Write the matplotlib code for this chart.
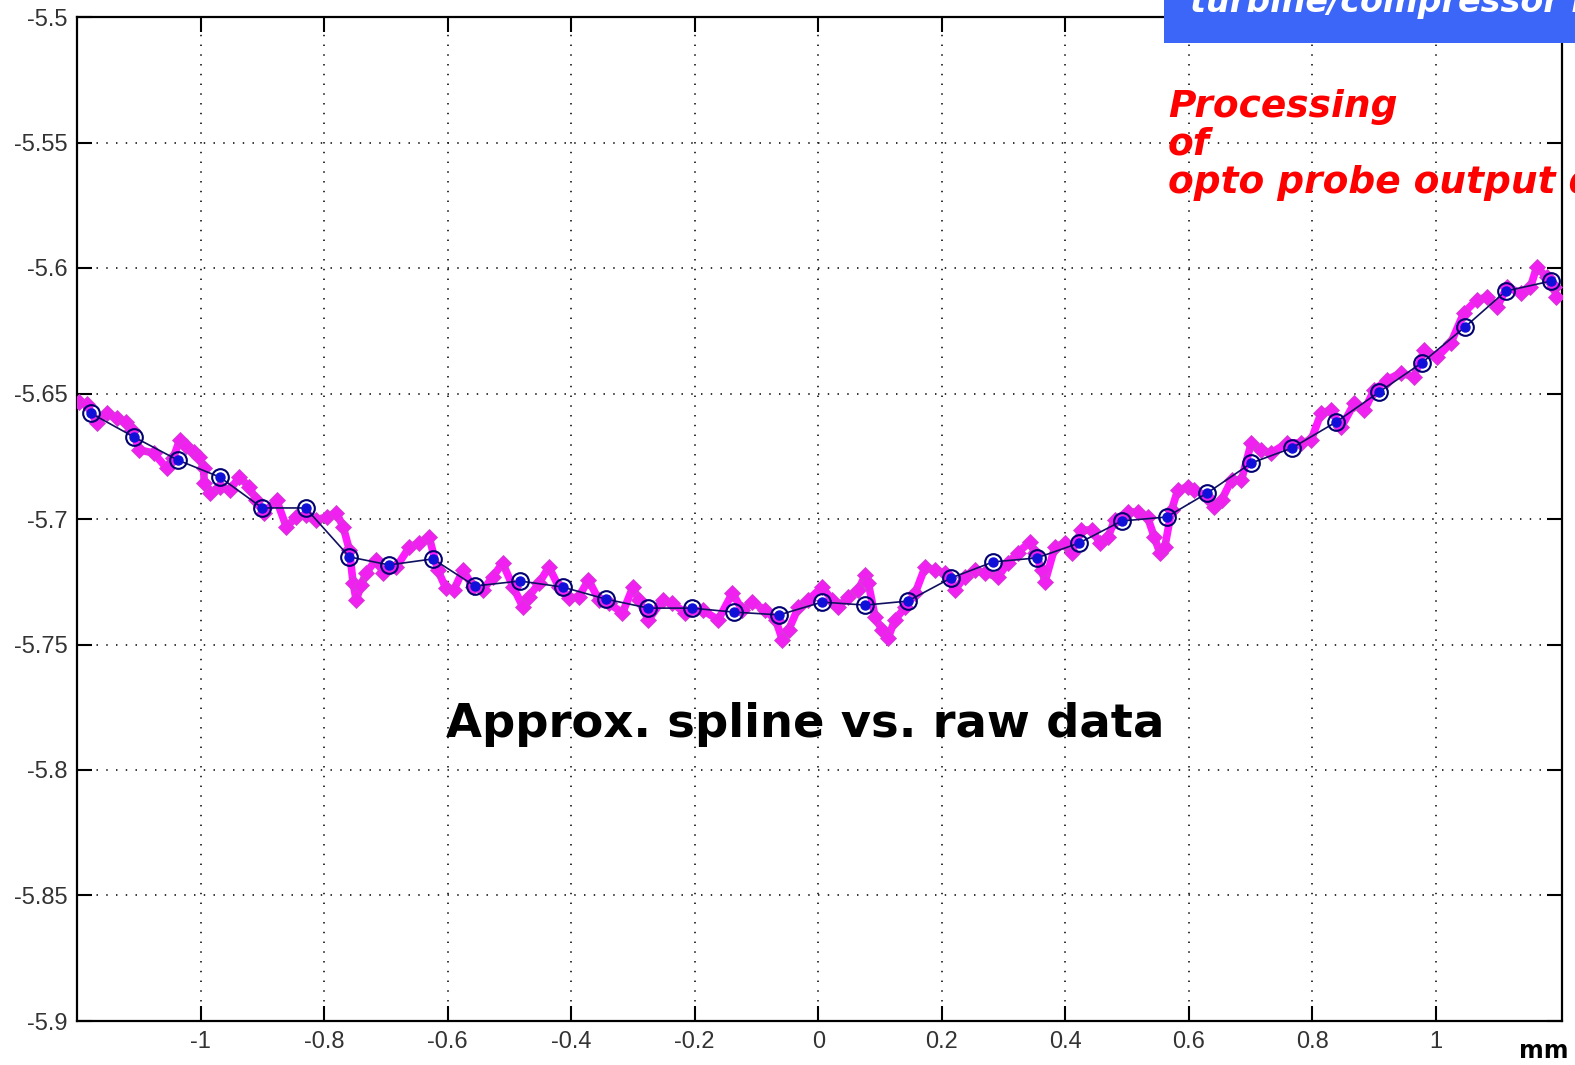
import matplotlib
matplotlib.use("Agg")
import matplotlib.pyplot as plt
import matplotlib.patches as mpatches

plt.rcParams["axes.unicode_minus"] = False

# Raw opto-probe readings (mm)
raw_x = [-1.197, -1.184, -1.168, -1.152, -1.136, -1.120, -1.111, -1.099, -1.076, -1.055,
         -1.044, -1.034, -1.023, -1.011, -1.002, -0.995, -0.994, -0.985, -0.969, -0.953,
         -0.937, -0.921, -0.910, -0.898, -0.877, -0.861, -0.845, -0.829, -0.813, -0.796,
         -0.780, -0.769, -0.759, -0.753, -0.748, -0.740, -0.732, -0.716, -0.704, -0.683,
         -0.662, -0.646, -0.630, -0.616, -0.603, -0.590, -0.575, -0.559, -0.543, -0.527,
         -0.511, -0.494, -0.478, -0.469, -0.452, -0.436, -0.420, -0.404, -0.388, -0.372,
         -0.355, -0.339, -0.317, -0.300, -0.291, -0.275, -0.252, -0.236, -0.215, -0.187,
         -0.162, -0.139, -0.123, -0.107, -0.086, -0.069, -0.058, -0.048, -0.032, -0.016,
         0.006, 0.023, 0.032, 0.048, 0.065, 0.076, 0.081, 0.092, 0.103, 0.113,
         0.124, 0.141, 0.157, 0.173, 0.189, 0.205, 0.221, 0.237, 0.254, 0.270,
         0.291, 0.307, 0.323, 0.342, 0.351, 0.362, 0.367, 0.383, 0.399, 0.410,
         0.426, 0.443, 0.456, 0.469, 0.480, 0.501, 0.517, 0.533, 0.544, 0.553,
         0.561, 0.572, 0.582, 0.598, 0.609, 0.630, 0.641, 0.653, 0.669, 0.685,
         0.701, 0.717, 0.733, 0.759, 0.782, 0.798, 0.814, 0.830, 0.847, 0.868,
         0.884, 0.900, 0.921, 0.943, 0.964, 0.981, 1.002, 1.024, 1.045, 1.066,
         1.082, 1.099, 1.115, 1.137, 1.153, 1.163, 1.179, 1.191, 1.195]
raw_y = [-5.6534, -5.6542, -5.6618, -5.6578, -5.6598, -5.6614, -5.6645, -5.6725, -5.6737, -5.6797,
         -5.6757, -5.6685, -5.6709, -5.6733, -5.6753, -5.6797, -5.6857, -5.6896, -5.6873, -5.6884,
         -5.6833, -5.6873, -5.6924, -5.6976, -5.6924, -5.7032, -5.6992, -5.6984, -5.7004, -5.6992,
         -5.6976, -5.7032, -5.7124, -5.7255, -5.7323, -5.7263, -5.7215, -5.7163, -5.7215, -5.7191,
         -5.7112, -5.7096, -5.7072, -5.7203, -5.7275, -5.7283, -5.7203, -5.7271, -5.7283, -5.7231,
         -5.7175, -5.7271, -5.7351, -5.7311, -5.7255, -5.7191, -5.7271, -5.7315, -5.7311, -5.7243,
         -5.7323, -5.7335, -5.7375, -5.7271, -5.7323, -5.7402, -5.7323, -5.7335, -5.7375, -5.7363,
         -5.7402, -5.7295, -5.7363, -5.7331, -5.7363, -5.7402, -5.7482, -5.7442, -5.7351, -5.7323,
         -5.7271, -5.7323, -5.7351, -5.7311, -5.7283, -5.7223, -5.7255, -5.7390, -5.7442, -5.7474,
         -5.7402, -5.7351, -5.7295, -5.7191, -5.7203, -5.7215, -5.7283, -5.7231, -5.7203, -5.7215,
         -5.7231, -5.7175, -5.7135, -5.7092, -5.7135, -5.7203, -5.7251, -5.7112, -5.7096, -5.7135,
         -5.7044, -5.7044, -5.7096, -5.7072, -5.7004, -5.6972, -5.6972, -5.6992, -5.7072, -5.7135,
         -5.7112, -5.6964, -5.6884, -5.6873, -5.6884, -5.6912, -5.6952, -5.6924, -5.6845, -5.6845,
         -5.6697, -5.6725, -5.6737, -5.6697, -5.6697, -5.6685, -5.6578, -5.6566, -5.6633, -5.6538,
         -5.6566, -5.6486, -5.6446, -5.6418, -5.6434, -5.6327, -5.6355, -5.6299, -5.6179, -5.6127,
         -5.6116, -5.6155, -5.6076, -5.6100, -5.6076, -5.5996, -5.6036, -5.6076, -5.6116]

# Approximating spline knots
spline_x = [-1.178, -1.108, -1.037, -0.969, -0.900, -0.830, -0.759, -0.695, -0.624, -0.556,
            -0.483, -0.414, -0.344, -0.275, -0.205, -0.136, -0.063, 0.006, 0.076, 0.145,
            0.215, 0.283, 0.354, 0.422, 0.491, 0.564, 0.630, 0.701, 0.767, 0.838,
            0.908, 0.977, 1.047, 1.113, 1.186]
spline_y = [-5.6578, -5.6673, -5.6765, -5.6833, -5.6956, -5.6956, -5.7151, -5.7183, -5.7159, -5.7267,
            -5.7247, -5.7271, -5.7319, -5.7355, -5.7355, -5.7371, -5.7382, -5.7331, -5.7343, -5.7327,
            -5.7235, -5.7171, -5.7155, -5.7096, -5.7008, -5.6992, -5.6896, -5.6777, -5.6717, -5.6614,
            -5.6494, -5.6378, -5.6235, -5.6092, -5.6052]

x_ticks = [-1.0, -0.8, -0.6, -0.4, -0.2, 0.0, 0.2, 0.4, 0.6, 0.8, 1.0]
x_tick_labels = ["-1", "-0.8", "-0.6", "-0.4", "-0.2", "0", "0.2", "0.4", "0.6", "0.8", "1"]
y_ticks = [-5.9, -5.85, -5.8, -5.75, -5.7, -5.65, -5.6, -5.55, -5.5]
y_tick_labels = ["-5.9", "-5.85", "-5.8", "-5.75", "-5.7", "-5.65", "-5.6", "-5.55", "-5.5"]

fig = plt.figure(figsize=(15.75, 10.65), dpi=100)
ax = fig.add_axes([77 / 1575, 1 - 1021 / 1065, (1562 - 77) / 1575, (1021 - 17) / 1065])

ax.set_xlim(-1.2, 1.204)
ax.set_ylim(-5.9, -5.5)

ax.grid(True, color="#222222", linestyle=(0, (0.8, 4.6)), linewidth=1.3)
ax.set_axisbelow(True)

# raw data
ax.plot(raw_x, raw_y, color="#ff1aff", linewidth=5.5, solid_joinstyle="round", zorder=2)
ax.plot(raw_x, raw_y, linestyle="none", marker="D", markersize=8,
        markerfacecolor="#f020f0", markeredgecolor="#d040d0", markeredgewidth=0.6, zorder=3)

# spline through knots
ax.plot(spline_x, spline_y, color="#101060", linewidth=1.2, zorder=4)
ax.plot(spline_x, spline_y, linestyle="none", marker="o", markersize=12,
        markerfacecolor="none", markeredgecolor="#000070", markeredgewidth=1.5, zorder=5)
ax.plot(spline_x, spline_y, linestyle="none", marker="o", markersize=6.5,
        markerfacecolor="#1010d8", markeredgecolor="#1010d8", zorder=6)

ax.set_xticks(x_ticks)
ax.set_xticklabels(x_tick_labels)
ax.set_yticks(y_ticks)
ax.set_yticklabels(y_tick_labels)
ax.tick_params(direction="in", length=11, width=1.5, top=True, right=True,
               labelsize=17, labelcolor="#333333", pad=7)
for lab in ax.get_xticklabels() + ax.get_yticklabels():
    lab.set_family("Liberation Sans")
for sp in ax.spines.values():
    sp.set_linewidth(1.6)
    sp.set_color("black")

ax.text((805 - 77) / 1485, 0.295, "Approx. spline vs. raw data", transform=ax.transAxes,
        ha="center", va="center", fontsize=33.5, fontweight="heavy", color="black",
        family="DejaVu Sans", zorder=7)

# header banner and annotation
fig.patches.append(mpatches.Rectangle((1164 / 1575, 1 - 43 / 1065), 1 - 1164 / 1575, 43 / 1065,
                                      transform=fig.transFigure, facecolor="#3b66f7",
                                      edgecolor="none", zorder=10))
fig.text(1190 / 1575, 1 - 12 / 1065, "turbine/compressor blade", color="white",
         fontsize=24, fontweight="bold", fontstyle="italic", family="DejaVu Sans",
         ha="left", va="baseline", zorder=11)
fig.text(1168 / 1575, 1 - 193 / 1065, "Processing\nof\nopto probe output data", color="#ff0000",
         fontsize=27, fontweight="bold", fontstyle="italic", family="DejaVu Sans",
         ha="left", va="baseline", linespacing=1.08, zorder=11)
fig.text(1519 / 1575, 1 - 1058 / 1065, "mm", color="black", fontsize=17, fontweight="bold",
         family="DejaVu Sans", ha="left", va="baseline")

fig.savefig("out.png", dpi=100)
